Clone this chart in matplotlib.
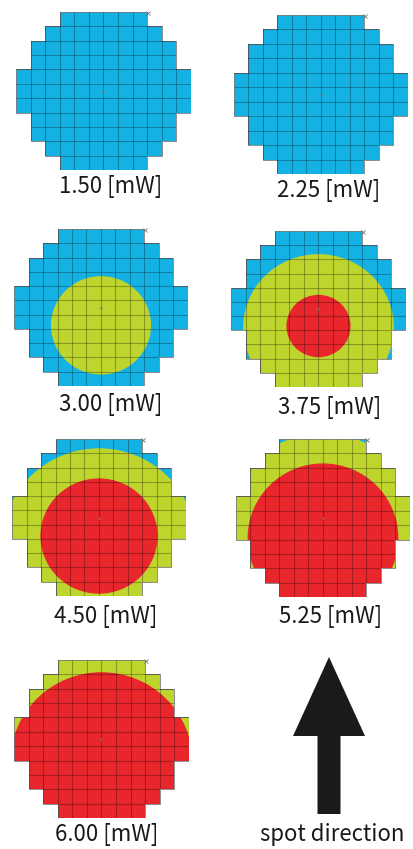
import numpy as np
import matplotlib.pyplot as plt
from matplotlib.patches import Polygon, Circle, FancyArrow

# laser power for each map
powers = ["1.50", "2.25", "3.00", "3.75", "4.50", "5.25", "6.00"]

# yellow-green zone (center y, radius) in cell units, 0 radius = none
yellow_cy = [0.0, 0.0, -1.25, -1.3, -1.83, -0.8, -0.8]
yellow_r = [0.0, 0.0, 3.45, 5.17, 6.68, 6.7, 9.0]

# red zone (center y, radius) in cell units
red_cy = [0.0, 0.0, 0.0, -1.2, -1.3, -1.4, -1.6]
red_r = [0.0, 0.0, 0.0, 2.2, 4.04, 5.2, 6.25]

# half width (in cells) of each chip row, top to bottom
row_half = [3, 4, 5, 5, 6, 6, 6, 5, 5, 4, 3]

BLUE = "#14b2e4"
YEL = "#bdd52c"
RED = "#e8262b"

W, H = 414, 849
fig = plt.figure(figsize=(W / 100, H / 100), dpi=100)
font = ["Noto Sans CJK JP", "DejaVu Sans"]

# grid boxes in pixels (left, top, right, bottom) and label centers
boxes = [(16, 12, 191, 170), (234, 15, 408, 174),
         (14, 229, 188, 386), (231, 231, 406, 387),
         (12, 439, 186, 596), (236, 439, 410, 597),
         (14, 660, 189, 818)]
label_xy = [(111, 187), (329, 190), (111, 404), (330, 407),
            (106, 617), (331, 617), (107, 835)]

# staircase outline of the chip area
pts_r, pts_l = [], []
for i, w in enumerate(row_half):
    top, bot = 5.5 - i, 4.5 - i
    pts_r += [(w, top), (w, bot)]
    pts_l += [(-w, top), (-w, bot)]
outline_pts = pts_r + pts_l[::-1]

for k, p in enumerate(powers):
    l, t, r, b = boxes[k]
    ax = fig.add_axes([l / W, 1 - b / H, (r - l) / W, (b - t) / H])
    ax.set_xlim(-6, 6)
    ax.set_ylim(-5.5, 5.5)
    ax.axis("off")

    base = Polygon(outline_pts, closed=True, fc=BLUE, ec="none")
    ax.add_patch(base)
    if yellow_r[k] > 0:
        c = Circle((0, yellow_cy[k]), yellow_r[k], fc=YEL, ec="none")
        ax.add_patch(c)
        c.set_clip_path(base)
    if red_r[k] > 0:
        c = Circle((0, red_cy[k]), red_r[k], fc=RED, ec="none")
        ax.add_patch(c)
        c.set_clip_path(base)

    vl = ax.vlines(np.arange(-5, 6), -5.5, 5.5, colors="k", alpha=0.28, lw=0.8)
    hl = ax.hlines(np.arange(-4.5, 5.5), -6, 6, colors="k", alpha=0.28, lw=0.8)
    vl.set_clip_path(base)
    hl.set_clip_path(base)
    ax.add_patch(Polygon(outline_pts, closed=True, fc="none", ec="#7a7a7a", lw=0.6))

    ax.plot(0, 0, marker="s", ms=1.5, color="#777777", mec="none")
    ax.plot(3.05, 5.45, marker="x", ms=2.5, mew=0.6, color="#777777", clip_on=False)

    fig.text(label_xy[k][0] / W, 1 - label_xy[k][1] / H, f"{p} [mW]",
             ha="center", va="center", fontsize=16, family=font, color="#1a1a1a")

# direction arrow in pixel coordinates
ov = fig.add_axes([0, 0, 1, 1], zorder=-1)
ov.set_xlim(0, W)
ov.set_ylim(H, 0)
ov.axis("off")
ov.add_patch(FancyArrow(329, 814, 0, 657 - 814, width=23, head_width=72,
                        head_length=79, length_includes_head=True,
                        fc="#1a1a1a", ec="none"))
fig.text(332 / W, 1 - 835 / H, "spot direction", ha="center", va="center",
         fontsize=16, family=font, color="#1a1a1a")

fig.savefig("out.png", dpi=100)
